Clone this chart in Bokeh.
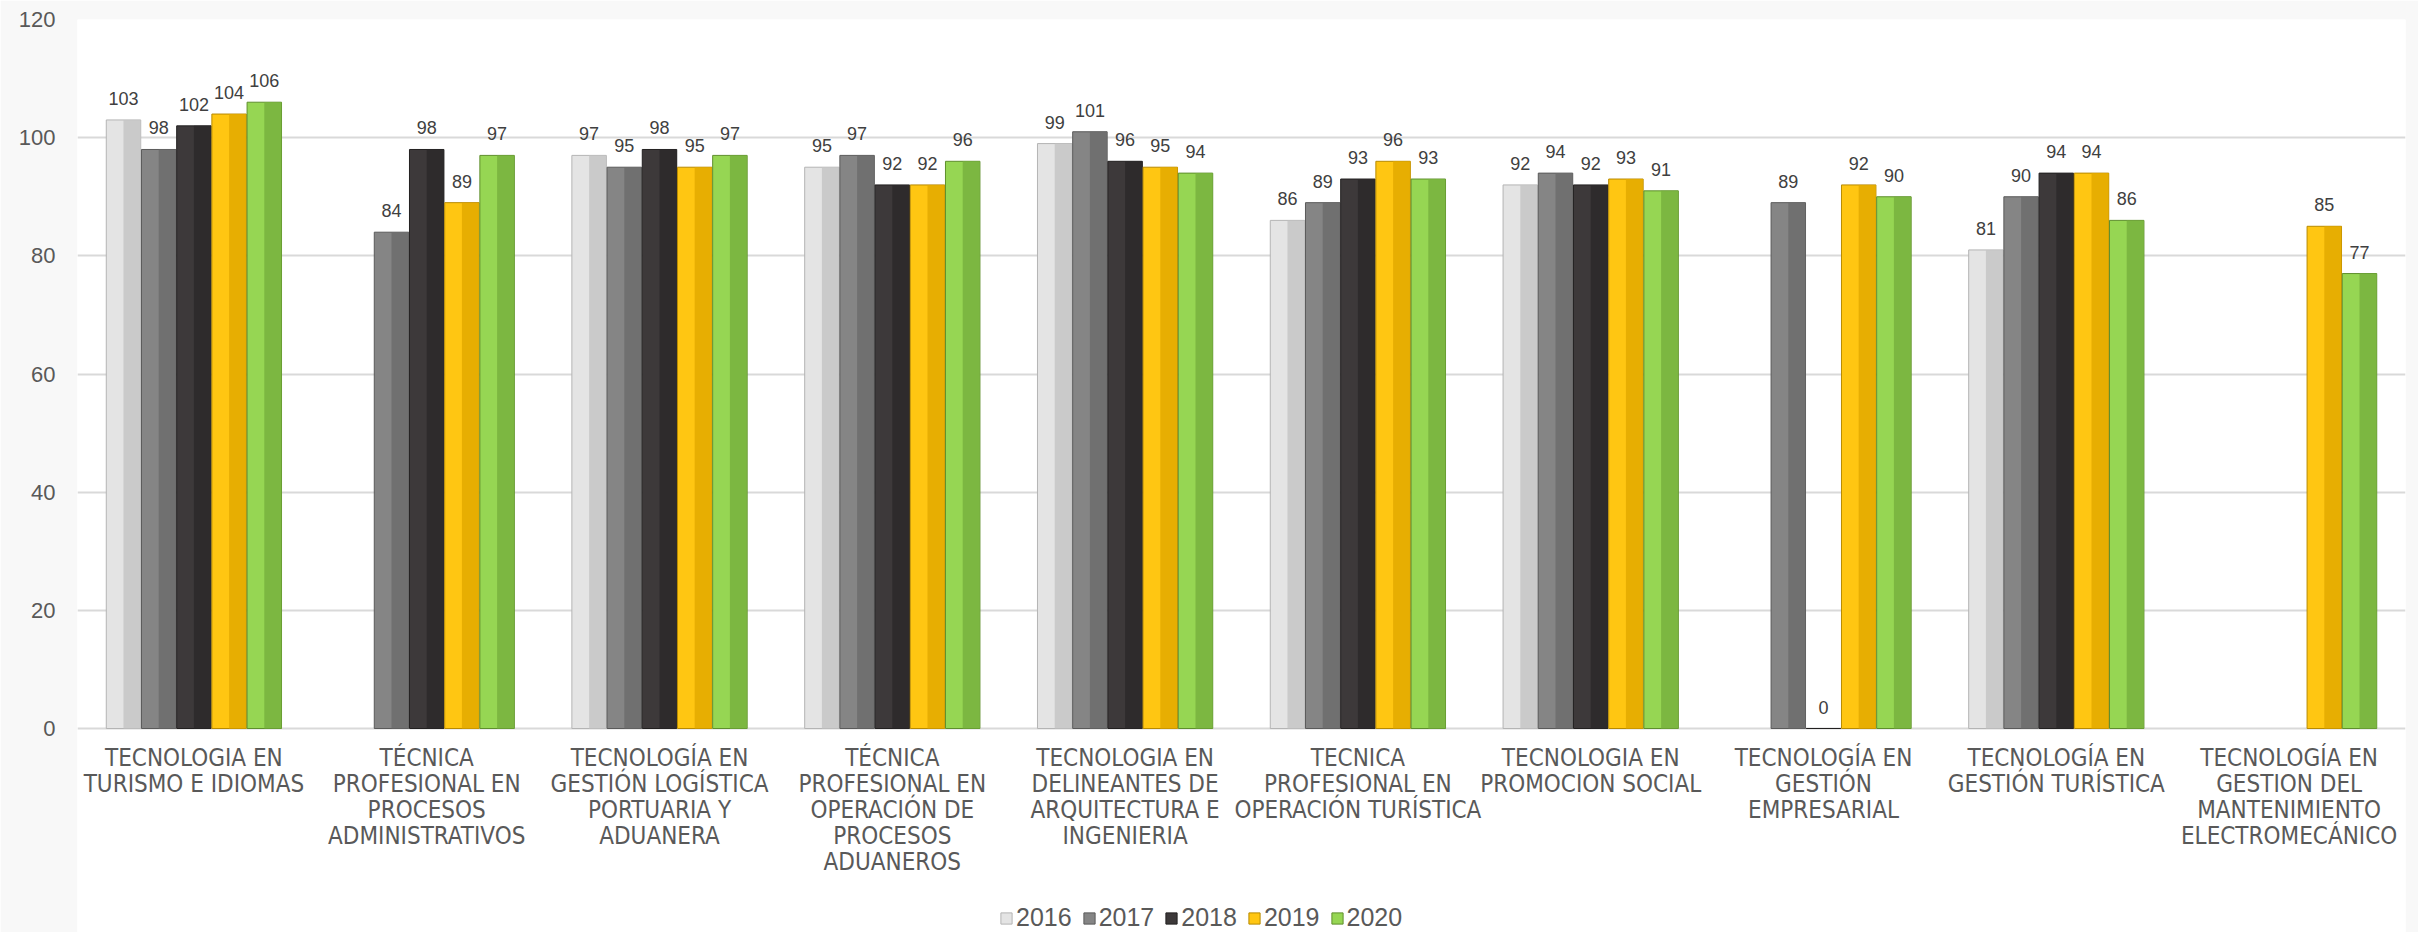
import math
from bokeh.plotting import figure
from bokeh.models import ColumnDataSource, FixedTicker, Legend, LegendItem, Range1d
from bokeh.core.properties import value
from bokeh.embed import file_html
from bokeh.resources import INLINE

nan = float("nan")

categories = [
    "TECNOLOGIA EN\nTURISMO E IDIOMAS",
    "TÉCNICA\nPROFESIONAL EN\nPROCESOS\nADMINISTRATIVOS",
    "TECNOLOGÍA EN\nGESTIÓN LOGÍSTICA\nPORTUARIA Y\nADUANERA",
    "TÉCNICA\nPROFESIONAL EN\nOPERACIÓN DE\nPROCESOS\nADUANEROS",
    "TECNOLOGIA EN\nDELINEANTES DE\nARQUITECTURA E\nINGENIERIA",
    "TECNICA\nPROFESIONAL EN\nOPERACIÓN TURÍSTICA",
    "TECNOLOGIA EN\nPROMOCION SOCIAL",
    "TECNOLOGÍA EN\nGESTIÓN\nEMPRESARIAL",
    "TECNOLOGÍA EN\nGESTIÓN TURÍSTICA",
    "TECNOLOGÍA EN\nGESTION DEL\nMANTENIMIENTO\nELECTROMECÁNICO",
]
years = ["2016", "2017", "2018", "2019", "2020"]
v2016 = [103, nan, 97, 95, 99, 86, 92, nan, 81, nan]
v2017 = [98, 84, 95, 97, 101, 89, 94, 89, 90, nan]
v2018 = [102, 98, 98, 92, 96, 93, 92, 0, 94, nan]
v2019 = [104, 89, 95, 92, 95, 96, 93, 92, 94, 85]
v2020 = [106, 97, 97, 96, 94, 93, 91, 90, 86, 77]
series = [v2016, v2017, v2018, v2019, v2020]

y_ticks = [0, 20, 40, 60, 80, 100, 120]

# styling
base_colors = ["#e4e4e4", "#858585", "#3d393a", "#ffc612", "#96d653"]
dark_colors = ["#c6c6c6", "#6c6c6c", "#2c292a", "#e3a900", "#78b13e"]
edge_colors = ["#b4b4b4", "#5a5a5a", "#222020", "#b88a00", "#5e8f2c"]

TXT = "#595959"
NARROW = "'Liberation Sans Narrow', 'Arial Narrow', 'DejaVu Sans Condensed', sans-serif"

W, H = 2418, 932
left, right, top = 77, 13, 19
zero_px = 728
px_per_unit = (zero_px - top) / 120.0
y_start = -(H - zero_px) / px_per_unit

p = figure(width=W, height=H, x_range=Range1d(0, 10), y_range=Range1d(y_start, 120),
           output_backend="svg", toolbar_location=None,
           min_border_left=left, min_border_right=right, min_border_top=top,
           min_border_bottom=0)
p.background_fill_color = "white"
p.border_fill_color = "#f8f8f8"
p.outline_line_color = None

n = len(categories)
step = 0.1512
bw = 0.148
legend_items = []
for j, (yr, vals) in enumerate(zip(years, series)):
    xs = [i + 0.5 + (j - 2) * step for i in range(n)]
    labels = ["" if (isinstance(v, float) and math.isnan(v)) else str(int(v)) for v in vals]
    src = ColumnDataSource(dict(x=xs, top=vals, lab=labels,
                                xr=[x + bw / 4 for x in xs]))
    r = p.vbar(x="x", top="top", width=bw, bottom=0, source=src,
               fill_color=base_colors[j], line_color=edge_colors[j], line_width=1)
    p.vbar(x="xr", top="top", width=bw / 2, bottom=0, source=src,
           fill_color=dark_colors[j], fill_alpha=0.85, line_color=None)
    p.text(x="x", y="top", text="lab", source=src, text_align="center",
           text_baseline="bottom", y_offset=-15,
           text_font=value("Liberation Sans"), text_font_size="18px", text_color="#404040")
    legend_items.append(LegendItem(label=yr, renderers=[r]))

# category labels (drawn under the zero line)
cat_src = ColumnDataSource(dict(x=[i + 0.5 for i in range(n)], y=[0] * n, t=categories))
p.text(x="x", y="y", text="t", source=cat_src, text_align="center", text_baseline="top",
       y_offset=15, text_font=value(NARROW), text_font_size="24px",
       text_color=TXT, text_line_height=0.93)

p.xaxis.visible = False

p.yaxis.ticker = FixedTicker(ticks=y_ticks)
p.yaxis.major_label_text_font = "Liberation Sans"
p.yaxis.major_label_text_font_size = "22px"
p.yaxis.major_label_text_color = TXT
p.yaxis.major_label_standoff = 16
p.yaxis.major_tick_line_color = None
p.yaxis.minor_tick_line_color = None
p.yaxis.axis_line_color = None

p.xgrid.grid_line_color = None
p.ygrid.grid_line_color = "#d9d9d9"
p.ygrid.grid_line_width = 2

legend = Legend(items=legend_items, orientation="horizontal", location=(922, 0),
                padding=0, margin=0, spacing=10, glyph_width=14, glyph_height=14,
                label_standoff=3, label_height=26,
                label_text_font="Liberation Sans", label_text_font_size="25px",
                label_text_color=TXT, background_fill_alpha=0, border_line_color=None)
p.add_layout(legend, "center")

open("out.html", "w").write(file_html(p, INLINE))
